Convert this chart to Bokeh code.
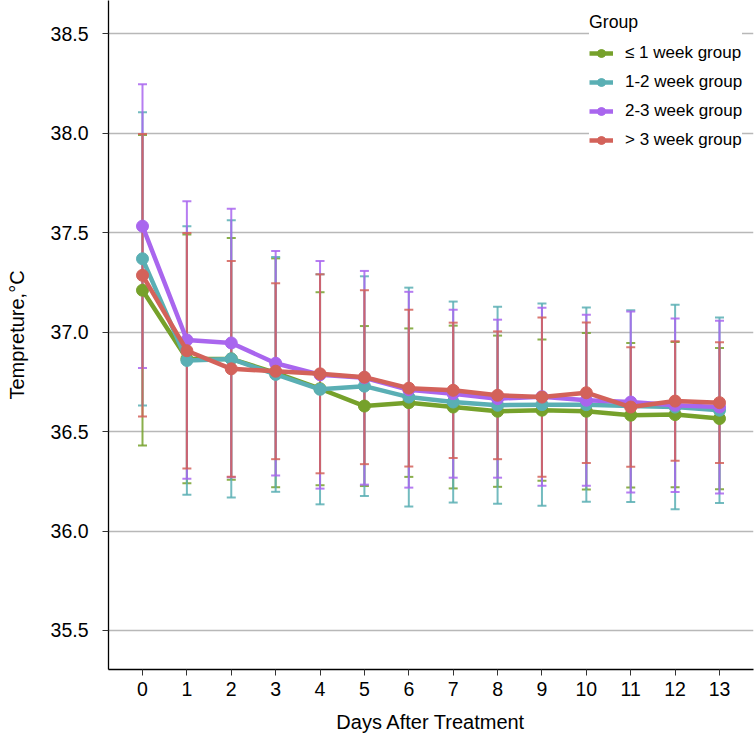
from bokeh.plotting import figure
from bokeh.models import Legend, LegendItem, FixedTicker, Range1d, PrintfTickFormatter, ColumnDataSource
from bokeh.embed import file_html
from bokeh.resources import INLINE

days = list(range(14))
groups = ["≤ 1 week group", "1-2 week group", "2-3 week group", "> 3 week group"]
colors = ["#76A12B", "#5AAFB4", "#A966EE", "#D3625A"]

mean_le1 = [37.21, 36.865, 36.865, 36.795, 36.715, 36.628, 36.645, 36.623, 36.602, 36.607, 36.602, 36.582, 36.585, 36.565]
sd_le1 = [0.78, 0.625, 0.607, 0.575, 0.485, 0.402, 0.373, 0.409, 0.38, 0.355, 0.393, 0.363, 0.365, 0.355]
mean_1_2 = [37.368, 36.857, 36.865, 36.787, 36.712, 36.728, 36.673, 36.648, 36.632, 36.635, 36.635, 36.628, 36.623, 36.607]
sd_1_2 = [0.737, 0.675, 0.697, 0.59, 0.578, 0.552, 0.55, 0.505, 0.495, 0.508, 0.488, 0.482, 0.514, 0.466]
mean_2_3 = [37.532, 36.96, 36.945, 36.843, 36.785, 36.77, 36.71, 36.69, 36.665, 36.675, 36.657, 36.648, 36.632, 36.623]
sd_2_3 = [0.713, 0.697, 0.675, 0.564, 0.572, 0.537, 0.492, 0.422, 0.397, 0.447, 0.43, 0.455, 0.436, 0.434]
mean_gt3 = [37.285, 36.906, 36.815, 36.803, 36.79, 36.773, 36.718, 36.707, 36.682, 36.673, 36.695, 36.623, 36.653, 36.645]
sd_gt3 = [0.71, 0.592, 0.542, 0.442, 0.50, 0.437, 0.394, 0.34, 0.321, 0.40, 0.353, 0.30, 0.30, 0.303]

y_ticks = [35.5, 36.0, 36.5, 37.0, 37.5, 38.0, 38.5]

series = [(mean_le1, sd_le1), (mean_1_2, sd_1_2), (mean_2_3, sd_2_3), (mean_gt3, sd_gt3)]

FONT = "Liberation Sans"

p = figure(width=754, height=735, output_backend="svg", toolbar_location=None,
           x_range=Range1d(-0.766, 13.766), y_range=Range1d(35.304, 38.666),
           min_border_left=108, min_border_right=1, min_border_top=0, min_border_bottom=65)
p.outline_line_color = None
p.xgrid.visible = False
p.ygrid.grid_line_color = "#B8B8B8"
p.ygrid.grid_line_width = 1.3
p.yaxis.ticker = FixedTicker(ticks=y_ticks)
p.ygrid.ticker = FixedTicker(ticks=y_ticks)
p.xaxis.ticker = FixedTicker(ticks=days)
p.yaxis.formatter = PrintfTickFormatter(format="%.1f")
for ax in (p.xaxis, p.yaxis):
    ax.axis_line_color = "black"
    ax.axis_line_width = 1.3
    ax.major_tick_line_color = "#333333"
    ax.major_tick_out = 6
    ax.major_tick_in = 0
    ax.minor_tick_line_color = None
    ax.major_label_text_font = FONT
    ax.major_label_text_font_size = "19.5px"
    ax.major_label_text_color = "black"
    ax.axis_label_text_font = FONT
    ax.axis_label_text_font_size = "20px"
    ax.axis_label_text_font_style = "normal"
    ax.axis_label_text_color = "black"
p.xaxis.axis_label = "Days After Treatment"
p.yaxis.axis_label = "Tempreture,°C"
p.xaxis.major_label_standoff = 6
p.yaxis.major_label_standoff = 14
p.xaxis.axis_label_standoff = 12
p.yaxis.axis_label_standoff = 20

# error bars
for (m, s), c in zip(series, colors):
    lo = [a - b for a, b in zip(m, s)]
    hi = [a + b for a, b in zip(m, s)]
    src = ColumnDataSource(dict(x=days, lo=lo, hi=hi))
    p.segment(x0="x", y0="lo", x1="x", y1="hi", source=src, line_color=c, line_width=2, line_alpha=0.85)
    p.scatter(x="x", y="lo", source=src, marker="dash", size=9, line_color=c, line_width=2, line_alpha=0.85)
    p.scatter(x="x", y="hi", source=src, marker="dash", size=9, line_color=c, line_width=2, line_alpha=0.85)

items = []
for (m, s), c, g in zip(series, colors, groups):
    src = ColumnDataSource(dict(x=days, y=m))
    lr = p.line(x="x", y="y", source=src, line_color=c, line_width=4.5)
    cr = p.scatter(x="x", y="y", source=src, size=12, fill_color=c, line_color=c)
    items.append(LegendItem(label=g, renderers=[lr, cr]))

legend = Legend(items=items, location=(481, 519), title="Group",
                title_text_font=FONT, title_text_font_size="17.7px", title_text_font_style="normal",
                title_text_color="black", title_standoff=10,
                label_text_font=FONT, label_text_font_size="17px", label_text_color="black",
                glyph_width=24, glyph_height=20, label_height=20, spacing=9, label_standoff=12,
                padding=4, margin=0, border_line_color=None,
                background_fill_color="white", background_fill_alpha=1.0)
p.add_layout(legend)

open("out.html", "w").write(file_html(p, INLINE))
